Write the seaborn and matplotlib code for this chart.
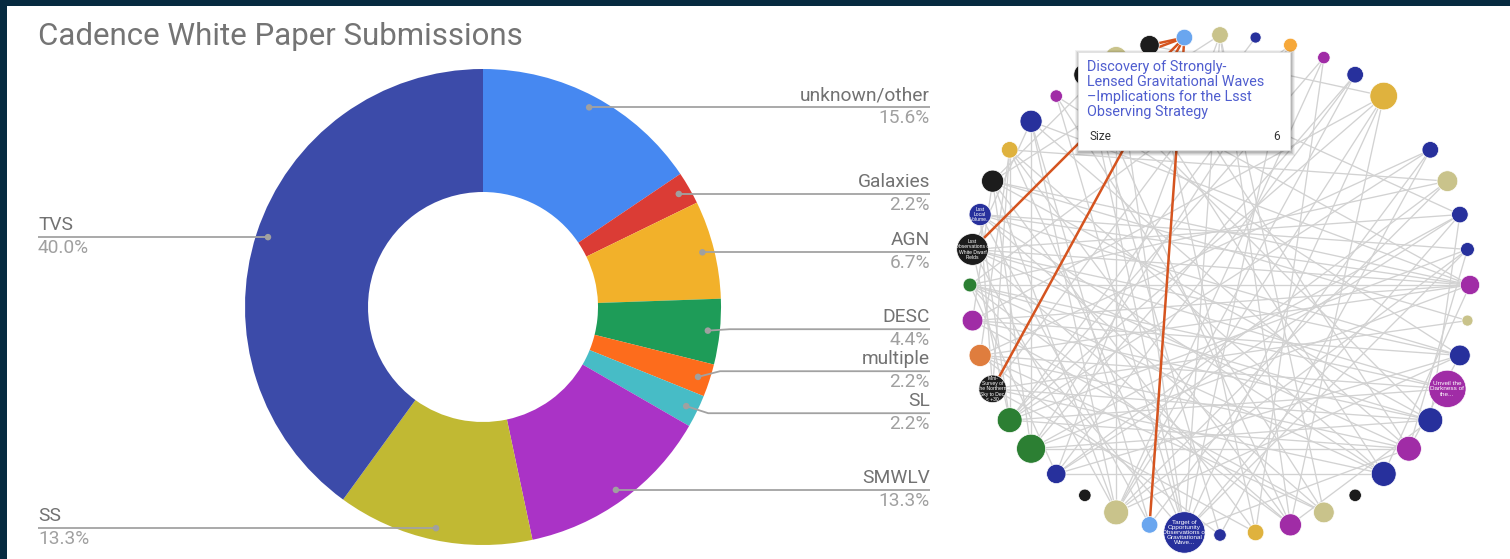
import numpy as np
import matplotlib
matplotlib.use("Agg")
import matplotlib.pyplot as plt
from matplotlib import font_manager
from matplotlib.collections import LineCollection
from matplotlib.patches import Rectangle
import pandas as pd
import seaborn as sns

# ---------------- donut: white paper submissions by science group ----------------
categories = ["unknown/other", "Galaxies", "AGN", "DESC", "multiple", "SL", "SMWLV", "SS", "TVS"]
submissions = [7, 1, 3, 2, 1, 1, 6, 6, 18]
slice_colors = ["#4688f1", "#db3c35", "#f2b12a", "#1e9c58", "#fd6c1c", "#47bcc6",
                "#aa33c6", "#c1b933", "#3c4ba9"]
label_sides = ["right", "right", "right", "right", "right", "right", "right", "left", "left"]

# ---------------- network: papers connected by shared interests ----------------
# one entry per slot of the circular layout (None = empty slot)
node_groups = ["tan", "navy", "amber", "purple", "navy", "gold", None, "navy", "tan", "navy",
               "navy", "purple", "tan", "navy", "purple", "navy", "purple", "navy", "black", "tan",
               "purple", "gold", "navy", "navy", "lightblue", "tan", "black", "navy", "green", "green",
               "black", "orange", "purple", "green", "black", "navy", "black", "gold", "navy", "purple",
               "black", "tan", "black", "lightblue"]
node_size = [6, 4, 5, 4.5, 6, 10, 0, 6, 7.5, 6,
             5, 7, 4, 7.5, 13.5, 9, 9, 9, 4.5, 7.5,
             8, 6, 4.5, 15, 6, 9, 4.5, 7, 10.5, 9,
             10, 8, 7.5, 5, 11.5, 8, 8, 6, 8, 4.5,
             8, 8, 7, 6]
edges = [(34, 11), (34, 13), (34, 14), (34, 9), (34, 16), (34, 20), (34, 25), (34, 38),
         (33, 11), (33, 14), (33, 17), (33, 8),
         (32, 11), (32, 13), (32, 15), (32, 19), (32, 5),
         (31, 11), (31, 14), (31, 16), (31, 22),
         (30, 12), (30, 15), (30, 17), (30, 21), (30, 1),
         (29, 10), (29, 14), (29, 16), (29, 3), (29, 7),
         (28, 11), (28, 15), (28, 4), (28, 2),
         (27, 9), (27, 13), (27, 0),
         (25, 8), (25, 4), (25, 38), (25, 41), (25, 13), (25, 36),
         (23, 2), (23, 5), (23, 9), (23, 37), (23, 39), (23, 41), (23, 33), (23, 16), (23, 10),
         (24, 35), (24, 38), (22, 40), (22, 7),
         (21, 36), (21, 42), (21, 3),
         (20, 37), (20, 33), (20, 40), (20, 5),
         (19, 35), (19, 39), (19, 0), (19, 31),
         (17, 37), (17, 35), (17, 41), (17, 27),
         (16, 38), (16, 42), (16, 28),
         (15, 36), (15, 40), (15, 33),
         (13, 35), (13, 39),
         (11, 36), (11, 38), (11, 40), (11, 35),
         (10, 35), (10, 25), (9, 41), (9, 28), (8, 37), (8, 27),
         (7, 31), (7, 24), (5, 42), (5, 25), (5, 29), (4, 27), (3, 25),
         (2, 29), (2, 33), (0, 36), (0, 23), (0, 20), (12, 36),
         (36, 41), (38, 28), (37, 30), (35, 29), (40, 23),
         (29, 34), (28, 36), (30, 35), (31, 37), (32, 36), (27, 33), (29, 37),
         (11, 17), (13, 16), (15, 20), (9, 15), (10, 16)]
highlight_edges = [(43, 42), (43, 40), (43, 34), (43, 30), (43, 24)]
node_captions = {14: "Unveil the\nDarkness of\nthe...",
                 23: "Target of\nOpportunity\nObservations of\nGravitational\nWave...",
                 30: "Mini-\nSurvey of\nthe Northern\nSky to Dec\n< +30",
                 34: "Lsst\nObservations of\nWhite Dwarf\nFields",
                 35: "Lsst\nLocal\nVolume..."}
tooltip_title = "Discovery of Strongly-\nLensed Gravitational Waves\n\u2013Implications for the Lsst\nObserving Strategy"
tooltip_size = 6

group_palette = {"navy": "#27309c", "black": "#1c1c1c", "tan": "#c9c38b", "gold": "#dfb23e",
                 "purple": "#a02ca6", "green": "#2c7f33", "orange": "#df7d3e",
                 "amber": "#f6a83a", "lightblue": "#6aa6ef"}

sns.set_theme(style="white")
plt.rcParams["font.family"] = ["Roboto", "DejaVu Sans"]

installed = {f.name for f in font_manager.fontManager.ttflist}
card_font = "Liberation Sans Narrow" if "Liberation Sans Narrow" in installed else "Roboto"

W, H = 1510, 559
fig = plt.figure(figsize=(W / 100, H / 100), dpi=100, facecolor="#062a40")
ax = fig.add_axes([0, 0, 1, 1])
ax.set_facecolor("none")
ax.add_patch(Rectangle((7, 6), W - 7, H - 6, facecolor="white", edgecolor="none", zorder=0))

# ---------------- donut ----------------
cx, cy, R, r_in = 483, 307, 238, 115
ax.pie(submissions, colors=slice_colors, startangle=-90, counterclock=True,
       center=(cx, cy), radius=R, wedgeprops=dict(width=R - r_in, edgecolor="none"))
ax.set_xlim(0, W)
ax.set_ylim(H, 0)
ax.set_aspect("equal")
ax.axis("off")

total = sum(submissions)
cum = np.cumsum([0] + submissions[:-1])
mid = 2 * np.pi * (cum + np.array(submissions) / 2) / total
dot_x = cx + 0.95 * R * np.sin(mid)
dot_y = cy - 0.95 * R * np.cos(mid)


def spread(targets, gap):
    order = np.argsort(targets)
    groups = [[i] for i in order]
    changed = True
    while changed:
        changed = False
        pos = {}
        for g in groups:
            m = np.mean([targets[i] for i in g])
            for k, i in enumerate(g):
                pos[i] = m + (k - (len(g) - 1) / 2) * gap
        for a in range(len(groups) - 1):
            if pos[groups[a + 1][0]] - pos[groups[a][-1]] < gap - 0.01:
                groups[a] = groups[a] + groups[a + 1]
                del groups[a + 1]
                changed = True
                break
    return pos


right_idx = [i for i, s in enumerate(label_sides) if s == "right"]
left_idx = [i for i, s in enumerate(label_sides) if s == "left"]
label_y = {}
for idx in (right_idx, left_idx):
    p = spread([dot_y[i] for i in idx], 42)
    for k, i in enumerate(idx):
        label_y[i] = p[k]

line_col = "#a2a2a2"
for i, name in enumerate(categories):
    ly = label_y[i]
    pct = f"{100 * submissions[i] / total:.1f}%"
    if label_sides[i] == "right":
        bend = dot_x[i] + 22
        xs, xe, ha = [dot_x[i], bend, 930], 930, "right"
    else:
        bend = dot_x[i] - 22
        xs, xe, ha = [dot_x[i], bend, 38], 38, "left"
    ys = [dot_y[i], ly, ly]
    ax.plot(xs, ys, color=line_col, lw=1.3, zorder=3, solid_capstyle="butt")
    ax.text(xe, ly - 3, name, ha=ha, va="bottom", fontsize=13.8, color="#727272", zorder=4)
    ax.text(xe, ly + 2, pct, ha=ha, va="top", fontsize=13.8, color="#a0a0a0", zorder=4)
sns.scatterplot(x=dot_x, y=dot_y, color="#a0a0a0", s=22, edgecolor="none", ax=ax,
                zorder=4, legend=False)

ax.text(38, 45, "Cadence White Paper Submissions", fontsize=22.5, color="#747474",
        ha="left", va="baseline")

# ---------------- network ----------------
ncx, ncy, NR = 1220, 285, 250
n_slots = len(node_groups)
ang = 2 * np.pi * np.arange(n_slots) / n_slots
nx = ncx + NR * np.sin(ang)
ny = ncy - NR * np.cos(ang)

segs = [[(nx[a], ny[a]), (nx[b], ny[b])] for a, b in edges]
ax.add_collection(LineCollection(segs, colors="#d2d2d2", linewidths=0.95, zorder=5))
hsegs = [[(nx[a], ny[a]), (nx[b], ny[b])] for a, b in highlight_edges]
ax.add_collection(LineCollection(hsegs, colors="#d5541f", linewidths=1.8, zorder=6))

nodes = pd.DataFrame({"x": nx, "y": ny, "group": node_groups, "size": node_size})
nodes = nodes.dropna(subset=["group"])
radius_px = 1.38 * nodes["size"].to_numpy()
sns.scatterplot(data=nodes, x="x", y="y", hue="group", palette=group_palette,
                s=(2 * radius_px * 0.72) ** 2, edgecolor="white", linewidth=0.5,
                ax=ax, zorder=7, legend=False)
for k, cap in node_captions.items():
    ax.text(nx[k], ny[k], cap, ha="center", va="center", fontsize=3.6 if node_size[k] < 13 else 4.6,
            color="white", linespacing=1.05, zorder=8, family=["Liberation Sans", "DejaVu Sans"])

# tooltip card
tx0, ty0, tx1, ty1 = 1078, 52, 1290, 150
for off, al in [(4, 0.05), (3, 0.07), (2, 0.09), (1, 0.1)]:
    ax.add_patch(Rectangle((tx0 - off + 1, ty0 - off + 2), tx1 - tx0 + 2 * off, ty1 - ty0 + 2 * off,
                           facecolor="#000000", alpha=al, edgecolor="none", zorder=19))
ax.add_patch(Rectangle((tx0, ty0), tx1 - tx0, ty1 - ty0, facecolor="white",
                       edgecolor="#e2e2e2", linewidth=0.6, zorder=20))
ax.text(tx0 + 9, ty0 + 8, tooltip_title, ha="left", va="top", fontsize=10.4, color="#4f5dcf",
        linespacing=1.08, zorder=21, family=[card_font, "DejaVu Sans"])
ax.text(tx0 + 11, ty0 + 85, "Size", ha="left", va="center", fontsize=8.5, color="#333333",
        zorder=21, family=[card_font, "DejaVu Sans"])
ax.text(tx1 - 10, ty0 + 85, str(tooltip_size), ha="right", va="center", fontsize=8.5,
        color="#333333", zorder=21, family=[card_font, "DejaVu Sans"])

fig.savefig("out.png", dpi=100, facecolor=fig.get_facecolor())
